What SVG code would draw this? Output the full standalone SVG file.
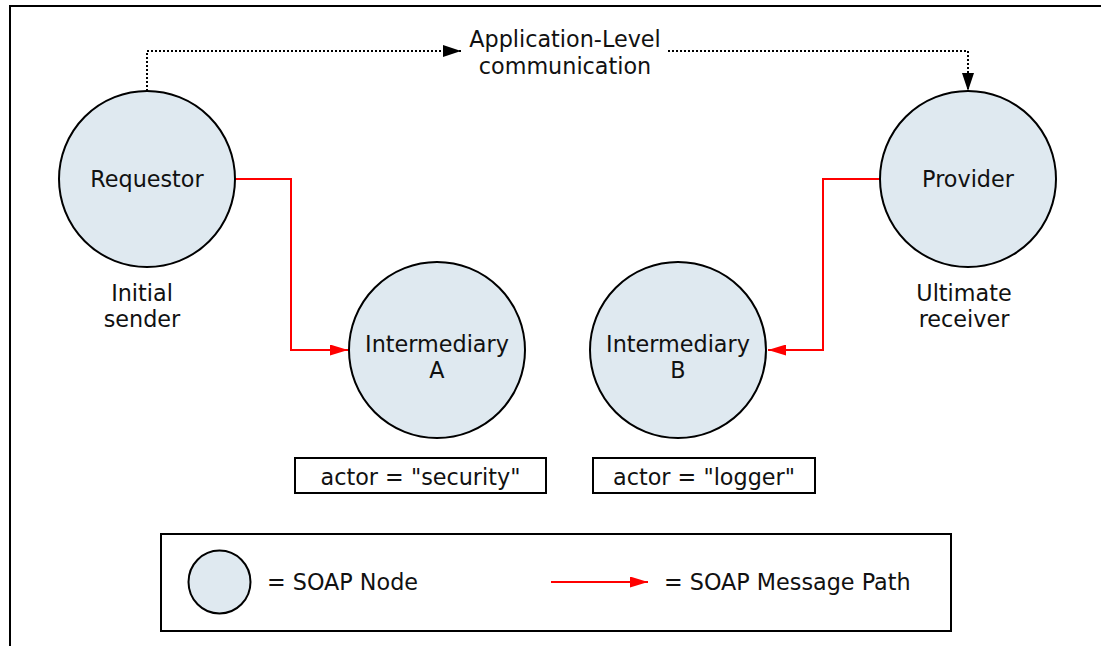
<svg xmlns="http://www.w3.org/2000/svg" width="1101" height="646" viewBox="0 0 1101 646">
<style>
.node{fill:#dfe9f0;stroke:#000;stroke-width:2}
.t{font-family:"DejaVu Sans",Verdana,sans-serif;font-size:22.3px;fill:#111;text-anchor:middle}
.tl{font-family:"DejaVu Sans",Verdana,sans-serif;font-size:22.3px;fill:#111}
.box{fill:#fff;stroke:#000;stroke-width:2}
.red{fill:none;stroke:#f00;stroke-width:2}
.dot{fill:none;stroke:#000;stroke-width:2;stroke-dasharray:2 2}
</style>
<defs>
<marker id="ra" markerWidth="18" markerHeight="11" refX="18" refY="5.5" orient="auto" markerUnits="userSpaceOnUse"><path d="M0,0 L18,5.5 L0,11 Z" fill="#f00"/></marker>
<marker id="ka" markerWidth="18" markerHeight="12" refX="18" refY="6" orient="auto" markerUnits="userSpaceOnUse"><path d="M0,0 L18,6 L0,12 Z" fill="#000"/></marker>
</defs>
<rect width="1101" height="646" fill="#fff"/>
<path d="M10,646 V6 H1101" fill="none" stroke="#000" stroke-width="2"/>
<g id="connectors">
<path class="dot" d="M147,91 V51 H461" marker-end="url(#ka)"/>
<path class="dot" d="M668,51 H968 V91" marker-end="url(#ka)"/>
<path class="red" d="M235,179 H291 V350 H348" marker-end="url(#ra)"/>
<path class="red" d="M880,179 H823 V350 H768" marker-end="url(#ra)"/>
</g>
<g id="app-label"><text class="t" x="565" y="47">Application-Level</text><text class="t" x="565" y="74">communication</text></g>
<g id="requestor"><circle class="node" cx="147" cy="179" r="88"/><text class="t" x="147" y="187">Requestor</text></g>
<g id="provider"><circle class="node" cx="968" cy="179" r="88"/><text class="t" x="968" y="187">Provider</text></g>
<g id="intermediaryA"><circle class="node" cx="437" cy="350" r="88"/><text class="t" x="437" y="352">Intermediary</text><text class="t" x="437" y="378">A</text></g>
<g id="intermediaryB"><circle class="node" cx="678" cy="350" r="88"/><text class="t" x="678" y="352">Intermediary</text><text class="t" x="678" y="378">B</text></g>
<g id="initial-sender"><text class="t" x="142" y="301">Initial</text><text class="t" x="142" y="327">sender</text></g>
<g id="ultimate-receiver"><text class="t" x="964" y="301">Ultimate</text><text class="t" x="964" y="327">receiver</text></g>
<g id="actor-security"><rect class="box" x="295" y="458" width="251" height="35"/><text class="t" x="420.5" y="485">actor = "security"</text></g>
<g id="actor-logger"><rect class="box" x="593" y="458" width="222" height="35"/><text class="t" x="704" y="485">actor = "logger"</text></g>
<g id="legend">
<rect class="box" x="161" y="534" width="790" height="97"/>
<ellipse class="node" cx="219.5" cy="582" rx="31" ry="31.5"/>
<text class="tl" x="267" y="590">= SOAP Node</text>
<line class="red" x1="551" y1="582" x2="648" y2="582" marker-end="url(#ra)"/>
<text class="tl" x="664" y="590">= SOAP Message Path</text>
</g>
</svg>
